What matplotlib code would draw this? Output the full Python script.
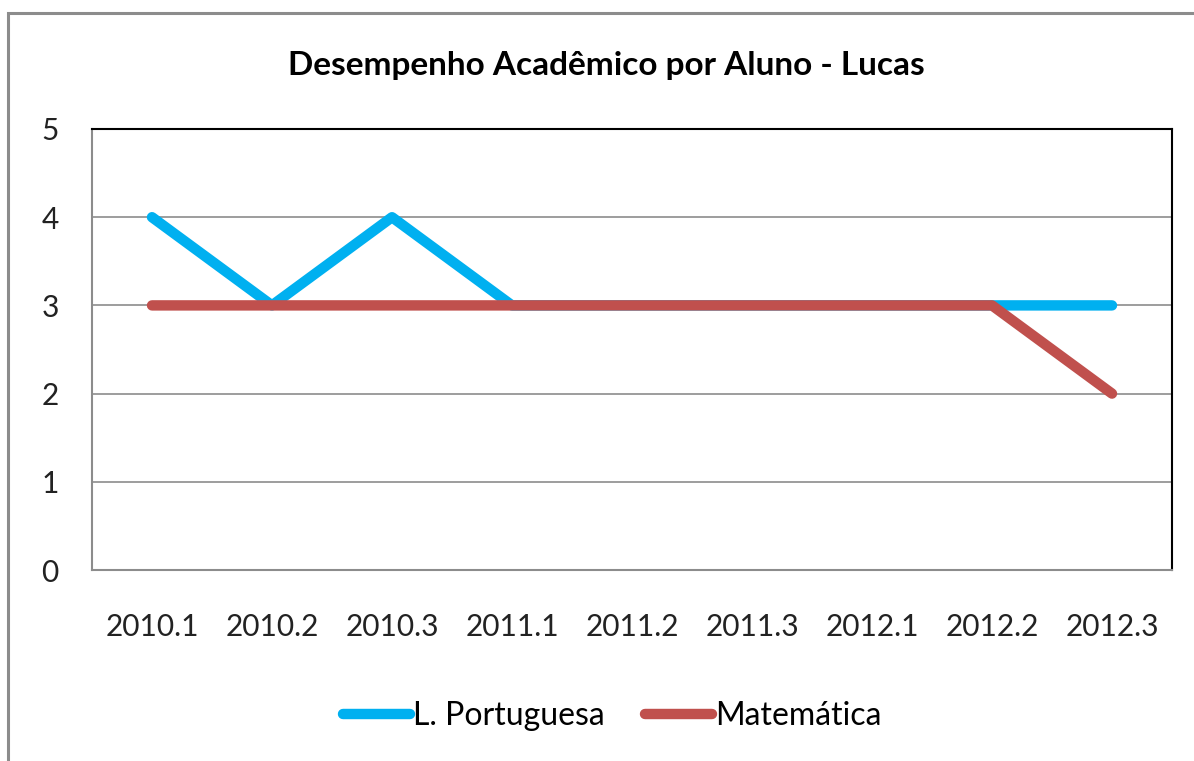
import matplotlib.pyplot as plt
from matplotlib.patches import Rectangle

periodos = ['2010.1', '2010.2', '2010.3', '2011.1', '2011.2', '2011.3', '2012.1', '2012.2', '2012.3']
portugues = [4, 3, 4, 3, 3, 3, 3, 3, 3]
matematica = [3, 3, 3, 3, 3, 3, 3, 3, 2]

plt.rcParams['font.family'] = ['Lato', 'DejaVu Sans']

fig = plt.figure(figsize=(11.94, 7.61), dpi=100)
W, H = 1194, 761

# moldura externa do gráfico (cortada à direita e embaixo)
fig.patches.append(Rectangle((8 / W, -0.1), 1.2, 1 - 13 / H + 0.1, transform=fig.transFigure,
                             fill=False, edgecolor='#8c8c8c', linewidth=2.2))

ax = fig.add_axes([92 / W, (H - 570) / H, (1172 - 92) / W, (570 - 129) / H])
x = range(len(periodos))
ax.plot(x, portugues, color='#00B0F0', linewidth=7.5, solid_capstyle='round',
        solid_joinstyle='round', label='L. Portuguesa')
ax.plot(x, matematica, color='#C0504D', linewidth=7.5, solid_capstyle='round',
        solid_joinstyle='round', label='Matemática')

ax.set_xlim(-0.5, len(periodos) - 0.5)
ax.set_ylim(0, 5)
ax.set_yticks(range(6))
ax.set_xticks(list(x))
ax.set_xticklabels(periodos)
ax.tick_params(length=0, labelsize=21.5, colors='#222222')
ax.tick_params(axis='y', pad=24)
ax.tick_params(axis='x', pad=31)
ax.yaxis.grid(True, color='#8c8c8c', linewidth=1.2)
ax.set_axisbelow(True)
for s in ['top', 'right']:
    ax.spines[s].set_color('black')
    ax.spines[s].set_linewidth(1.5)
for s in ['left', 'bottom']:
    ax.spines[s].set_color('#8c8c8c')
    ax.spines[s].set_linewidth(1.5)

fig.text(606 / W, 1 - 66 / H, 'Desempenho Acadêmico por Aluno - Lucas', ha='center', va='center',
         fontsize=24, fontweight='bold')

fig.legend(loc='center', bbox_to_anchor=(612 / W, 1 - 716 / H), ncol=2, frameon=False,
           fontsize=23, handlelength=2.1, handletextpad=0.1, columnspacing=1.25)

fig.savefig('out.png', dpi=100)
